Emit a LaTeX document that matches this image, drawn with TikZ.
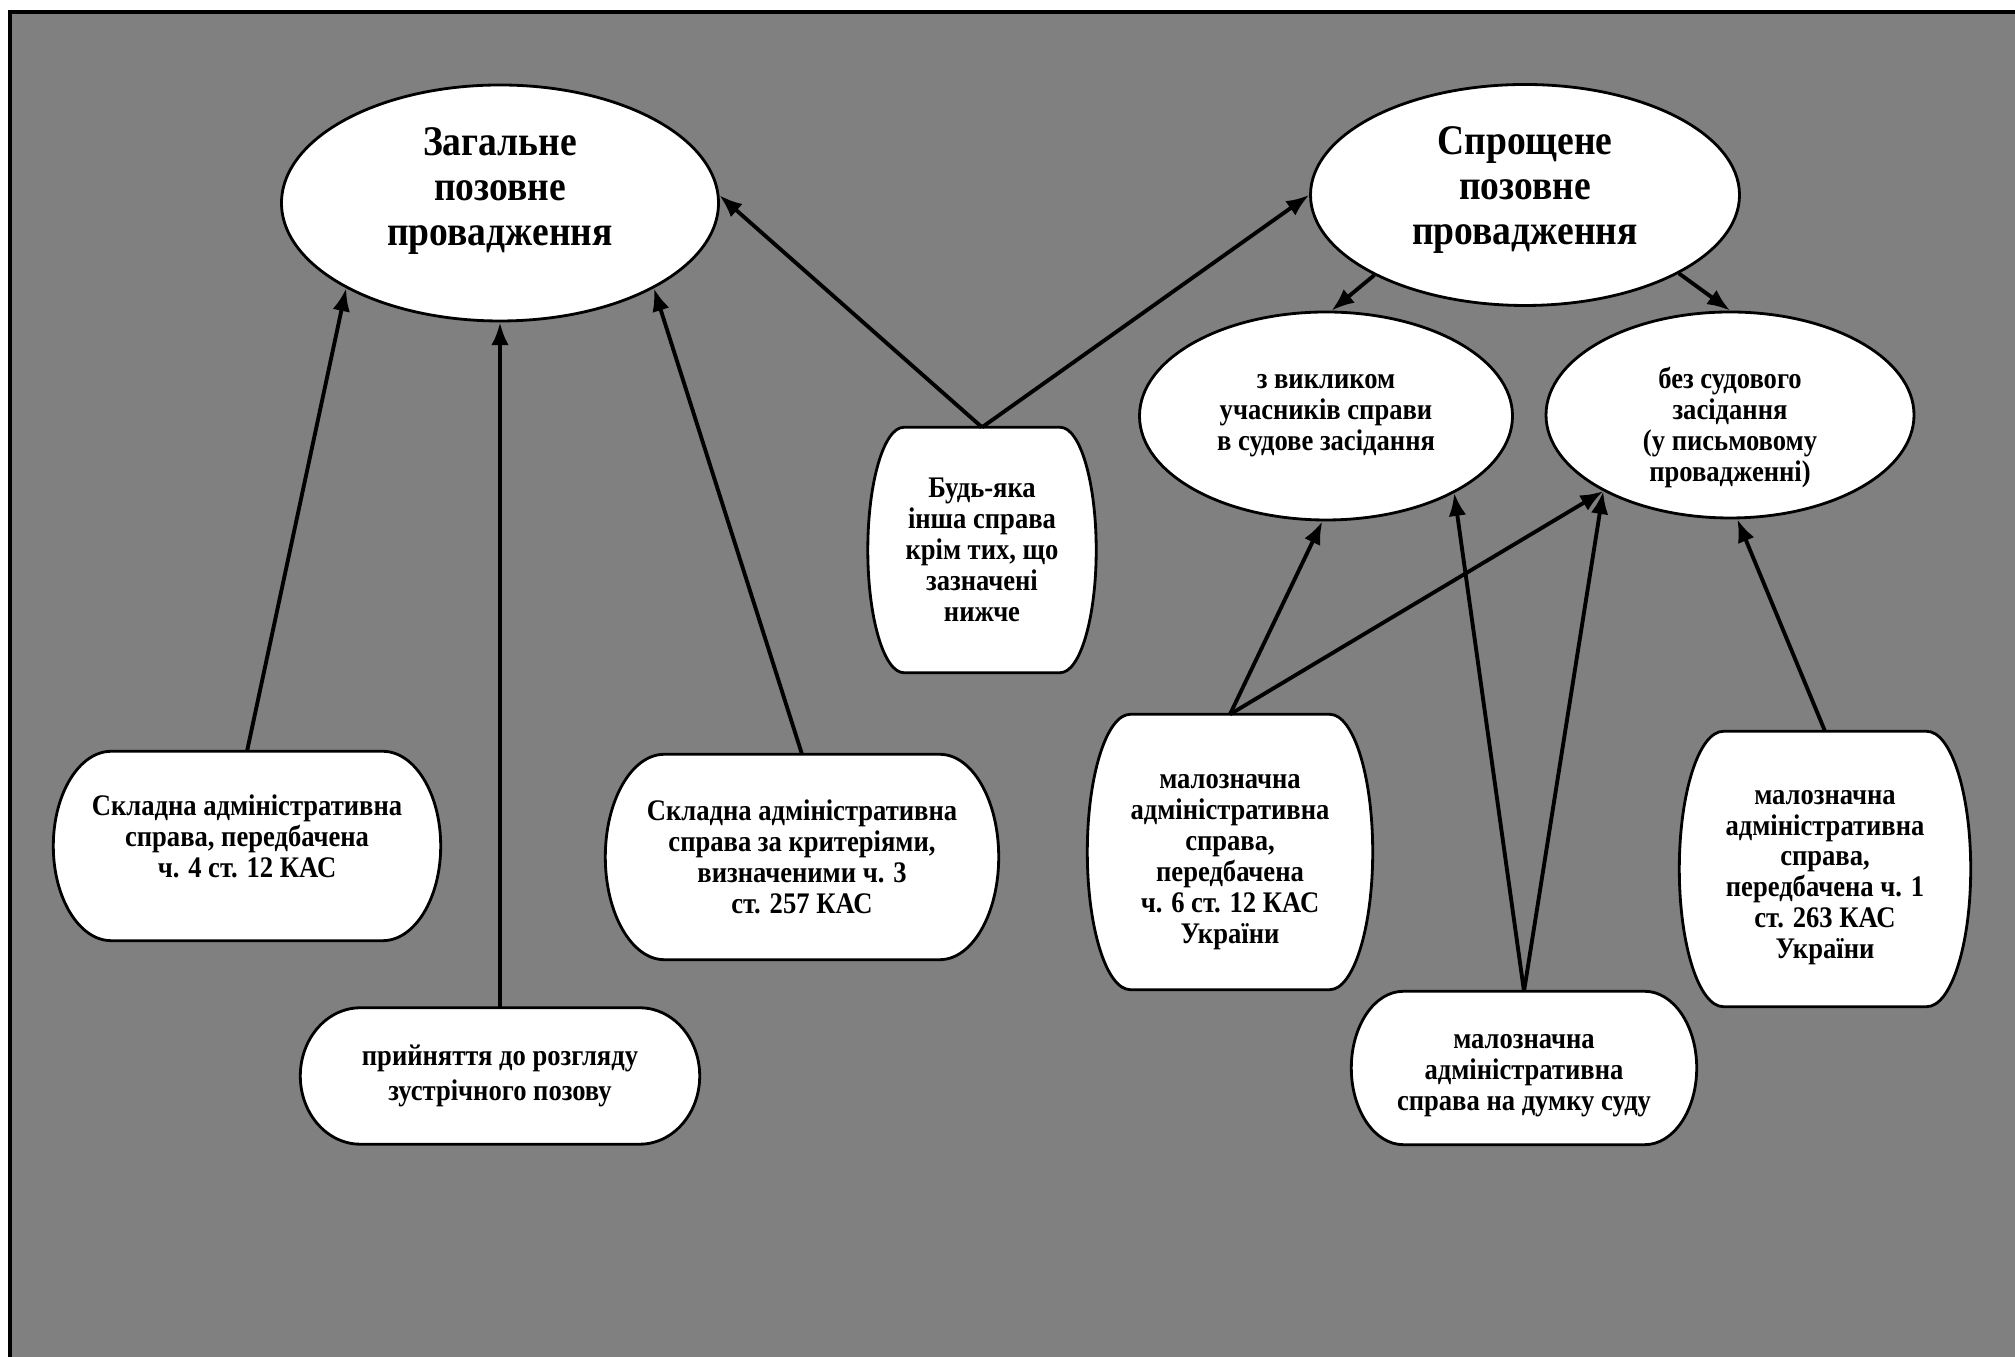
\documentclass[tikz,border=0pt]{standalone}
\usepackage{fontspec}
\setmainfont{Liberation Serif}[FakeStretch=0.89]
\usepackage{tikz}
\usetikzlibrary{shapes.geometric,arrows.meta,calc}

\pgfdeclarelayer{paper}
\pgfdeclarelayer{shapes}
\pgfsetlayers{paper,shapes,main}

\tikzset{
    oval/.style={ellipse, draw, fill=white, line width=0.8pt, inner sep=0pt, align=center},
    termbox/.style={rectangle, draw=none, inner sep=0pt, align=center,
                    font=\bfseries\fontsize{8.5}{8.8}\selectfont},
    termline/.style={draw, fill=white, line width=0.8pt}
}

% flat top and bottom, half-ellipse ends
\newcommand{\termoutline}[2]{%
    \path[termline] let \p1=(#1.north east), \p2=(#1.south west) in
        ($(#1.north west)+(#2,0)$) -- ($(#1.north east)+(-#2,0)$)
        arc[start angle=90, end angle=-90, x radius=#2, y radius={(\y1-\y2)/2}]
        -- ($(#1.south west)+(#2,0)$)
        arc[start angle=270, end angle=90, x radius=#2, y radius={(\y1-\y2)/2}] -- cycle;
}

\begin{document}
\begin{tikzpicture}
    \useasboundingbox (0,0) rectangle (20.15,13.57);
    \begin{pgfonlayer}{paper}
        \fill[fill=gray] (0.10,0) rectangle (20.15,13.45);
        \draw[line width=0.9pt] (0.10,0) -- (0.10,13.45) -- (20.15,13.45);
    \end{pgfonlayer}

    \begin{scope}[every node/.append style={font=\bfseries\fontsize{12}{12.8}\selectfont}]
        \node[oval, minimum width=4.37cm, minimum height=2.36cm] (gen) at (5.00,11.54) {Загальне\\позовне\\провадження\\[-3.6pt]};
        \node[oval, minimum width=4.29cm, minimum height=2.21cm] (simp) at (15.25,11.62) {Спрощене\\позовне\\провадження\\[-7.2pt]};
    \end{scope}
    \begin{scope}[every node/.append style={font=\bfseries\fontsize{8.5}{8.8}\selectfont}]
        \node[oval, minimum width=3.73cm, minimum height=2.08cm] (call) at (13.26,9.41) {з викликом\\учасників справи\\в судове засідання};
        \node[oval, minimum width=3.68cm, minimum height=2.06cm] (writ) at (17.30,9.42) {\mbox{}\\[4.4pt]без судового\\засідання\\(у письмовому\\провадженні)};
    \end{scope}

    \node[termbox, minimum width=2.27cm, minimum height=2.44cm] (other) at (9.82,8.07) {Будь-яка\\інша справа\\крім тих, що\\зазначені\\нижче};
    \node[termbox, minimum width=3.86cm, minimum height=1.88cm] (cmplxA) at (2.47,5.11) {Складна адміністративна\\справа, передбачена\\ч. 4 ст. 12 КАС\\[-3pt]};
    \node[termbox, minimum width=3.98cm, minimum height=1.35cm] (counter) at (5.00,2.81) {прийняття до розгляду\\[1pt]зустрічного позову};
    \node[termbox, minimum width=3.92cm, minimum height=2.04cm] (cmplxB) at (8.02,5.00) {Складна адміністративна\\справа за критеріями,\\визначеними ч. 3\\ст. 257 КАС};
    \node[termbox, minimum width=2.84cm, minimum height=2.74cm] (minorA) at (12.30,5.05) {\mbox{}\\[0.9pt]малозначна\\адміністративна\\справа,\\передбачена\\ч. 6 ст. 12 КАС\\України};
    \node[termbox, minimum width=3.44cm, minimum height=1.52cm] (minorB) at (15.24,2.89) {\mbox{}\\[-0.5pt]малозначна\\адміністративна\\справа на думку суду};
    \node[termbox, minimum width=2.90cm, minimum height=2.74cm] (minorC) at (18.25,4.88) {\mbox{}\\[0.1pt]малозначна\\адміністративна\\справа,\\передбачена ч. 1\\ст. 263 КАС\\України};

    \begin{pgfonlayer}{shapes}
        \termoutline{other}{0.36cm}
        \termoutline{cmplxA}{0.58cm}
        \termoutline{counter}{0.60cm}
        \termoutline{cmplxB}{0.59cm}
        \termoutline{minorA}{0.43cm}
        \termoutline{minorB}{0.52cm}
        \termoutline{minorC}{0.44cm}
    \end{pgfonlayer}

    \begin{scope}[every edge/.style={draw=black, line width=1.1pt},
                  -{Latex[length=6.5pt,width=5pt]}]
        \path (cmplxA.north) edge (gen.209);
        \path (counter.north) edge (gen.south);
        \path (cmplxB.north) edge (gen.331);
        \path (other.north) edge (gen.2);
        \path (other.north) edge (simp.west);
        \path (simp.208) edge (call.87);
        \path (simp.333) edge (writ.north);
        \path (minorA.north) edge (call.268);
        \path (minorA.north) edge (writ.211);
        \path (minorB.north) edge (call.329);
        \path (minorB.north) edge (writ.211);
        \path (minorC.north) edge (writ.274);
    \end{scope}
\end{tikzpicture}
\end{document}
